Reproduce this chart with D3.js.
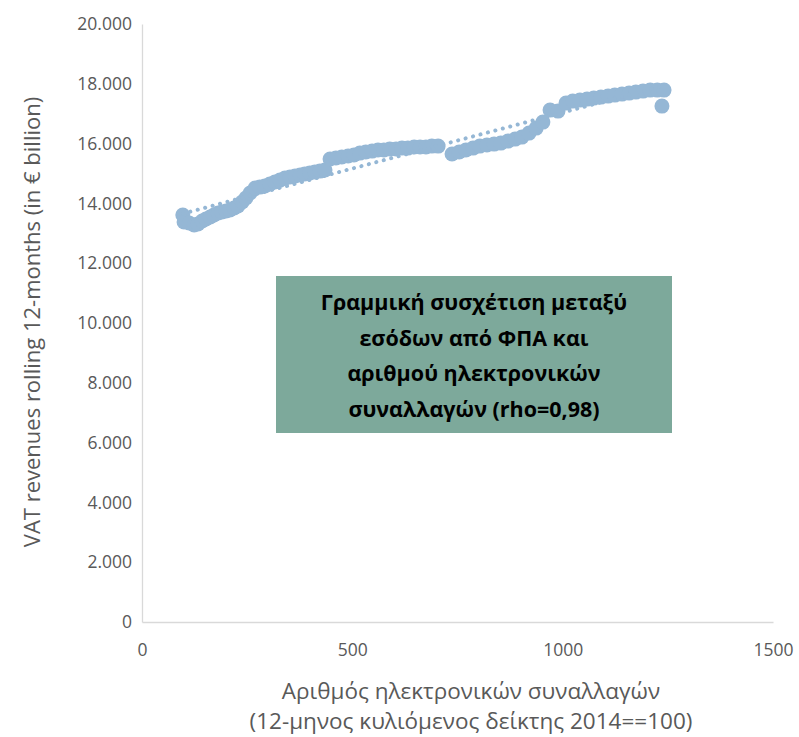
<!DOCTYPE html>
<html>
<head>
<meta charset="utf-8">
<script src="https://cdn.jsdelivr.net/npm/d3@7"></script>
<style>
  body { margin: 0; background: #fff; }
  svg text { font-family: "Open Sans", "Liberation Sans", sans-serif; }
</style>
</head>
<body>
<div id="chart"></div>
<script>
// electronic transactions index (12-month rolling, 2014=100)
const txIndex = [97, 100, 112, 124, 133, 143, 152, 162, 171, 181, 190, 200, 209, 219, 228, 238, 247, 257, 269, 280,
  292, 304, 316, 328, 340, 352, 364, 376, 387, 399, 411, 423, 435, 447, 461, 475, 490, 504, 518, 532,
  547, 561, 575, 589, 604, 618, 632, 647, 661, 675, 689, 704, 737, 754, 770, 787, 803, 820, 837, 853,
  870, 887, 903, 920, 937, 953, 970, 989, 1008, 1024, 1041, 1058, 1074, 1091, 1108, 1124, 1141, 1158, 1174, 1191,
  1208, 1225, 1241, 1236];
// VAT revenues rolling 12 months (EUR million)
const vatRevenue = [13610, 13376, 13343, 13276, 13309, 13410, 13477, 13543, 13610, 13677, 13710, 13744, 13777, 13844, 13911, 14045, 14179, 14346, 14513, 14546,
  14580, 14647, 14714, 14780, 14847, 14881, 14914, 14948, 14981, 15015, 15048, 15081, 15115, 15483, 15516, 15550, 15583, 15617, 15683, 15717,
  15750, 15784, 15784, 15817, 15817, 15850, 15850, 15884, 15884, 15884, 15917, 15917, 15650, 15717, 15784, 15850, 15917, 15951, 15984, 16017,
  16084, 16151, 16218, 16352, 16519, 16720, 17121, 17087, 17355, 17422, 17455, 17489, 17522, 17556, 17589, 17622, 17656, 17689, 17723, 17756,
  17790, 17790, 17790, 17255];

const xTicks = [0, 500, 1000, 1500];
const yTicks = [0, 2000, 4000, 6000, 8000, 10000, 12000, 14000, 16000, 18000, 20000];
const boxLines = ["Γραμμική συσχέτιση μεταξύ", "εσόδων από ΦΠΑ και", "αριθμού ηλεκτρονικών", "συναλλαγών (rho=0,98)"];
const xTitle = ["Αριθμός ηλεκτρονικών συναλλαγών", "(12-μηνος κυλιόμενος δείκτης 2014==100)"];
const yTitle = "VAT revenues rolling 12-months (in € billion)";

const width = 799, height = 737;
const margin = {left: 142, right: 26, top: 24, bottom: 115};
const pointColor = '#95b7d5', axisColor = '#d9d9d9', textColor = '#595959';

const data = txIndex.map((x, i) => ({x: x, y: vatRevenue[i]}));

const x = d3.scaleLinear().domain([0, 1500]).range([margin.left, width - margin.right]);
const y = d3.scaleLinear().domain([0, 20000]).range([height - margin.bottom, margin.top]);

const svg = d3.select('#chart').append('svg')
  .attr('width', width)
  .attr('height', height);

const fmt = d3.formatLocale({decimal: ',', thousands: '.', grouping: [3], currency: ['', '€']}).format(',d');

// y axis
const yAxis = svg.append('g')
  .attr('transform', 'translate(' + margin.left + ',0)')
  .call(d3.axisLeft(y).tickValues(yTicks).tickFormat(fmt).tickSize(0).tickPadding(10));
yAxis.select('.domain').attr('stroke', axisColor).attr('stroke-width', 1.3);
yAxis.selectAll('text').attr('fill', textColor).attr('font-size', 17.5);

// x axis
const xAxis = svg.append('g')
  .attr('transform', 'translate(0,' + (height - margin.bottom) + ')')
  .call(d3.axisBottom(x).tickValues(xTicks).tickFormat(d3.format('d')).tickSize(0).tickPadding(22));
xAxis.select('.domain').attr('stroke', axisColor).attr('stroke-width', 1.3);
xAxis.selectAll('text').attr('fill', textColor).attr('font-size', 17.5);

// trendline (least squares)
const mx = d3.mean(data, d => d.x), my = d3.mean(data, d => d.y);
const slope = d3.sum(data, d => (d.x - mx) * (d.y - my)) / d3.sum(data, d => (d.x - mx) * (d.x - mx));
const icpt = my - slope * mx;
const xr = d3.extent(data, d => d.x);

// points
svg.append('g').selectAll('circle')
  .data(data)
  .enter()
  .append('circle')
  .attr('cx', d => x(d.x))
  .attr('cy', d => y(d.y))
  .attr('r', 7.5)
  .attr('fill', pointColor);

svg.append('line')
  .attr('x1', x(xr[0])).attr('y1', y(icpt + slope * xr[0]))
  .attr('x2', x(xr[1])).attr('y2', y(icpt + slope * xr[1]))
  .attr('stroke', pointColor)
  .attr('stroke-width', 4)
  .attr('stroke-linecap', 'round')
  .attr('stroke-dasharray', '0.1 7.6');

// annotation box
const box = svg.append('g');
box.append('rect')
  .attr('x', 276).attr('y', 276)
  .attr('width', 396).attr('height', 157)
  .attr('fill', '#7da99b');
box.selectAll('text')
  .data(boxLines)
  .enter()
  .append('text')
  .attr('x', 474)
  .attr('y', (d, i) => 310 + i * 35.5)
  .attr('text-anchor', 'middle')
  .attr('font-size', 21.5)
  .attr('font-weight', 'bold')
  .attr('fill', '#000')
  .text(d => d);

// axis titles
svg.selectAll('.xtitle')
  .data(xTitle)
  .enter()
  .append('text')
  .attr('class', 'xtitle')
  .attr('x', 471)
  .attr('y', (d, i) => 699 + i * 30)
  .attr('text-anchor', 'middle')
  .attr('font-size', 22.5)
  .attr('fill', textColor)
  .text(d => d);

svg.append('text')
  .attr('transform', 'translate(40,322) rotate(-90)')
  .attr('text-anchor', 'middle')
  .attr('font-size', 22)
  .attr('fill', textColor)
  .text(yTitle);
</script>
</body>
</html>
